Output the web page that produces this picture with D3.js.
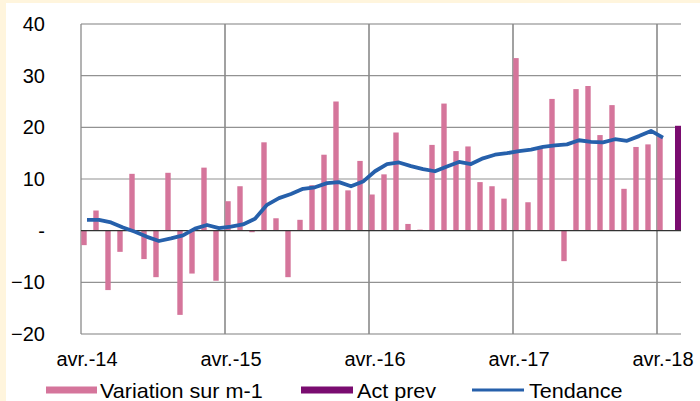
<!DOCTYPE html>
<html>
<head>
<meta charset="utf-8">
<script src="https://cdn.jsdelivr.net/npm/d3@7"></script>
<style>
  html, body { margin: 0; padding: 0; background: #fff; }
  svg { display: block; font-family: 'Liberation Sans', Arial, sans-serif; }
</style>
</head>
<body>
<script>
const months = [
  'avr.-14', 'mai-14', 'juin-14', 'juil.-14', 'août-14', 'sept.-14', 'oct.-14', 'nov.-14', 'déc.-14',
  'janv.-15', 'févr.-15', 'mars-15', 'avr.-15', 'mai-15', 'juin-15', 'juil.-15', 'août-15', 'sept.-15',
  'oct.-15', 'nov.-15', 'déc.-15', 'janv.-16', 'févr.-16', 'mars-16', 'avr.-16', 'mai-16', 'juin-16',
  'juil.-16', 'août-16', 'sept.-16', 'oct.-16', 'nov.-16', 'déc.-16', 'janv.-17', 'févr.-17', 'mars-17',
  'avr.-17', 'mai-17', 'juin-17', 'juil.-17', 'août-17', 'sept.-17', 'oct.-17', 'nov.-17', 'déc.-17',
  'janv.-18', 'févr.-18', 'mars-18', 'avr.-18', 'mai-18'
]

// Variation sur m-1 (pink bars)
const variation = [
  -2.8, 3.9, -11.5, -4.1, 11.0, -5.5, -9.0, 11.2, -16.3, -8.3, 12.2, -9.7,
  5.7, 8.6, -0.3, 17.1, 2.4, -9.0, 2.1, 8.8, 14.7, 25.0, 7.8, 13.5,
  7.0, 10.9, 19.0, 1.3, 0.2, 16.6, 24.6, 15.4, 16.3, 9.4, 8.6, 6.2,
  33.4, 5.5, 15.9, 25.5, -5.9, 27.4, 28.0, 18.5, 24.3, 8.1, 16.2, 16.7,
  18.2, null
]

// Act prev (purple bar)
const actPrev = [
  null, null, null, null, null, null, null, null, null, null, null, null,
  null, null, null, null, null, null, null, null, null, null, null, null,
  null, null, null, null, null, null, null, null, null, null, null, null,
  null, null, null, null, null, null, null, null, null, null, null, null,
  null, 20.3
]

// Tendance (blue line)
const tendance = [
  2.1, 2.1, 1.6, 0.6, -0.2, -1.2, -2.0, -1.5, -0.9, 0.4, 1.1, 0.5,
  0.8, 1.2, 2.3, 5.0, 6.3, 7.1, 8.1, 8.4, 9.2, 9.4, 8.6, 9.5,
  11.5, 12.9, 13.2, 12.5, 11.9, 11.5, 12.4, 13.3, 12.9, 14.0, 14.7, 15.0,
  15.4, 15.7, 16.2, 16.5, 16.7, 17.5, 17.2, 17.1, 17.7, 17.4, 18.3, 19.3,
  18.0, null
]

const yTicks = [-20, -10, 0, 10, 20, 30, 40]
const xTickLabels = ['avr.-14', 'avr.-15', 'avr.-16', 'avr.-17', 'avr.-18']
const yearStarts = ['avr.-15', 'avr.-16', 'avr.-17', 'avr.-18']

const width = 700
const height = 401
const margins = { left: 81, right: 19, top: 24, bottom: 67 }
const FONT_SIZE = '20px'

const colors = { variation: '#d5759b', actPrev: '#7a0c70', tendance: '#2660ab' }

const svg = d3.select('body').append('svg')
  .attr('width', width)
  .attr('height', height)
  .attr('viewBox', [0, 0, width, height].join(' '))

// Background frame
svg.append('rect').attr('width', width).attr('height', height).attr('fill', '#fff5dd')
svg.append('rect').attr('x', 6).attr('y', 3).attr('width', width - 6).attr('height', height - 3).attr('fill', '#fff')

const xScale = d3.scaleBand()
  .domain(months)
  .range([margins.left, width - margins.right])
  .paddingInner(0)
  .paddingOuter(0)

const yScale = d3.scaleLinear()
  .domain([-20, 40])
  .range([height - margins.bottom, margins.top])

const bw = xScale.bandwidth()

// Horizontal gridlines
svg.append('g')
  .selectAll('line')
  .data(yTicks.filter(d => d !== 0))
  .join('line')
  .attr('x1', margins.left)
  .attr('x2', width - margins.right)
  .attr('y1', d => yScale(d))
  .attr('y2', d => yScale(d))
  .attr('stroke', d => (d === -20 || d === 40) ? '#aaa' : '#929292')
  .attr('stroke-width', d => (d === -20 || d === 40) ? 1.5 : 1.2)

// Vertical gridlines at each April
svg.append('g')
  .selectAll('line')
  .data(yearStarts)
  .join('line')
  .attr('x1', d => xScale(d))
  .attr('x2', d => xScale(d))
  .attr('y1', margins.top)
  .attr('y2', height - margins.bottom)
  .attr('stroke', '#8a8a8a')
  .attr('stroke-width', 1.6)

// Left axis line
svg.append('line')
  .attr('x1', margins.left).attr('x2', margins.left)
  .attr('y1', margins.top).attr('y2', height - margins.bottom)
  .attr('stroke', '#8a8a8a')
  .attr('stroke-width', 1.3)

// Bars
svg.append('g')
  .selectAll('rect')
  .data(months.map((m, i) => ({ m, v: variation[i] })).filter(d => d.v !== null))
  .join('rect')
  .attr('x', d => xScale(d.m) + 0.3)
  .attr('width', bw / 2 - 0.6)
  .attr('y', d => yScale(Math.max(0, d.v)))
  .attr('height', d => Math.abs(yScale(d.v) - yScale(0)))
  .attr('fill', colors.variation)

svg.append('g')
  .selectAll('rect')
  .data(months.map((m, i) => ({ m, v: actPrev[i] })).filter(d => d.v !== null))
  .join('rect')
  .attr('x', d => xScale(d.m) + bw / 2)
  .attr('width', bw / 2)
  .attr('y', d => yScale(Math.max(0, d.v)))
  .attr('height', d => Math.abs(yScale(d.v) - yScale(0)))
  .attr('fill', colors.actPrev)

// Zero line
svg.append('line')
  .attr('x1', margins.left).attr('x2', width - margins.right)
  .attr('y1', yScale(0)).attr('y2', yScale(0))
  .attr('stroke', '#333')
  .attr('stroke-width', 1.2)

// Trend line
const line = d3.line()
  .defined(d => d.v !== null)
  .x(d => xScale(d.m) + bw / 2)
  .y(d => yScale(d.v))

svg.append('path')
  .datum(months.map((m, i) => ({ m, v: tendance[i] })))
  .attr('d', line)
  .attr('fill', 'none')
  .attr('stroke', colors.tendance)
  .attr('stroke-width', 3.8)
  .attr('stroke-linejoin', 'round')

// Axes (labels only)
const yAxis = svg.append('g')
  .attr('transform', `translate(${margins.left}, 0)`)
  .call(d3.axisLeft(yScale).tickValues(yTicks).tickSize(0).tickPadding(36)
    .tickFormat(d => d === 0 ? '-' : d3.format('d')(d)))
yAxis.select('.domain').remove()
yAxis.selectAll('text')
  .attr('font-size', FONT_SIZE)
  .attr('font-family', "'Liberation Sans', Arial, sans-serif")
  .attr('fill', '#000')

const xAxis = svg.append('g')
  .attr('transform', `translate(0, ${height - margins.bottom})`)
  .call(d3.axisBottom(xScale).tickValues(xTickLabels).tickSize(0).tickPadding(18))
xAxis.select('.domain').remove()
xAxis.selectAll('text')
  .attr('font-size', FONT_SIZE)
  .attr('font-family', "'Liberation Sans', Arial, sans-serif")
  .attr('fill', '#000')

// Legend (text a little wider than the axis labels, as in the source)
const legend = svg.append('g').attr('font-size', FONT_SIZE).attr('fill', '#000')
const legendY = 390
const legendText = (x, label) => legend.append('text')
  .attr('transform', `translate(${x}, ${legendY + 8}) scale(1.08, 1)`)
  .text(label)

legend.append('rect').attr('x', 46).attr('y', legendY - 3.5).attr('width', 51).attr('height', 7).attr('fill', colors.variation)
legendText(100, 'Variation sur m-1')

legend.append('rect').attr('x', 301).attr('y', legendY - 3.5).attr('width', 52).attr('height', 7).attr('fill', colors.actPrev)
legendText(357, 'Act prev')

legend.append('line').attr('x1', 472).attr('x2', 524).attr('y1', legendY).attr('y2', legendY)
  .attr('stroke', colors.tendance).attr('stroke-width', 3)
legendText(529, 'Tendance')
</script>
</body>
</html>
